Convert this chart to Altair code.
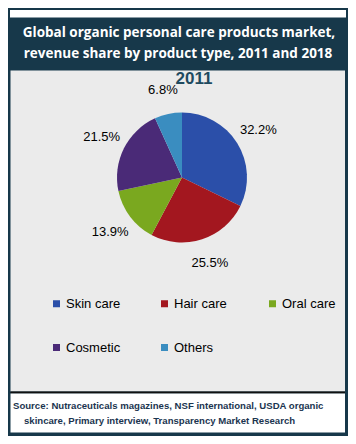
import altair as alt
import pandas as pd

categories = ["Skin care", "Hair care", "Oral care", "Cosmetic", "Others"]
shares = [32.2, 25.5, 13.9, 21.5, 6.8]
labels = ["32.2%", "25.5%", "13.9%", "21.5%", "6.8%"]
colors = ["#2b4fa9", "#a3171f", "#7aa81f", "#4a2a77", "#3a8dc0"]
title_lines = ["Global organic personal care products market,",
               "revenue share by product type, 2011 and 2018"]
year = "2011"
source_lines = ["Source: Nutraceuticals magazines, NSF international,  USDA organic",
                "skincare, Primary interview, Transparency Market Research"]

df = pd.DataFrame({"category": categories, "share": shares, "label": labels,
                   "order": list(range(len(categories)))})
one = pd.DataFrame({"a": [0]})

W, H = 340, 428
DARK = "#17384a"
CX, CY = 174, 169.5


def box(x, x2, y, y2, color):
    return alt.Chart(one).mark_rect(color=color).encode(
        x=alt.value(x), x2=alt.value(x2), y=alt.value(y), y2=alt.value(y2))


def txt(s, x, y, size, color, weight="normal", font="Liberation Sans", align="center"):
    return alt.Chart(one).mark_text(
        text=s, fontSize=size, color=color, fontWeight=weight, font=font,
        align=align, baseline="middle").encode(x=alt.value(x), y=alt.value(y))


frame = [
    box(2, W - 2, 2, 9.5, "white"),
    box(2.5, W - 3, 62.5, 383.5, "#ebebeb"),
    box(2.5, W - 3, 383.5, 385.5, "#111111"),
    box(2.5, W - 3, 385.5, H - 3.5, "white"),
]

pie = alt.Chart(df).mark_arc(outerRadius=65, stroke=None).encode(
    theta=alt.Theta("share:Q", stack=True),
    order=alt.Order("order:Q"),
    color=alt.Color(
        "category:N",
        scale=alt.Scale(domain=categories, range=colors),
        sort=categories,
        legend=alt.Legend(
            orient="none", legendX=42, legendY=289, direction="horizontal",
            columns=3, gridAlign="all", columnPadding=37, rowPadding=30,
            symbolType="square", symbolSize=49, symbolStrokeWidth=0,
            labelFont="Liberation Sans", labelFontSize=13, labelColor="black",
            labelOffset=3, title=None, padding=0),
    ),
    x=alt.value(CX), y=alt.value(CY),
)

pie_labels = alt.Chart(df).mark_text(
    font="Liberation Sans", fontSize=13, color="black", align="center",
    baseline="middle").encode(
    theta=alt.Theta("share:Q", stack=True),
    order=alt.Order("order:Q"),
    radius=alt.value(90),
    text="label:N",
    x=alt.value(CX), y=alt.value(CY),
)

texts = [
    txt(title_lines[0], 171, 25, 13.5, "white", "bold", "Open Sans"),
    txt(title_lines[1], 170, 46, 13.5, "white", "bold", "Open Sans"),
    txt(year, 186, 71, 17, "#1f4a5f", "bold"),
    txt(source_lines[0], 5, 398, 9.6, "#1b3550", "bold", align="left"),
    txt(source_lines[1], 16, 412.5, 9.6, "#1b3550", "bold", align="left"),
]

chart = alt.layer(*frame, pie, pie_labels, *texts).properties(
    width=W, height=H, autosize="none", padding=0, background=DARK
).configure_view(stroke=None)

chart.save("out.html", embed_options={"renderer": "svg", "actions": False})
